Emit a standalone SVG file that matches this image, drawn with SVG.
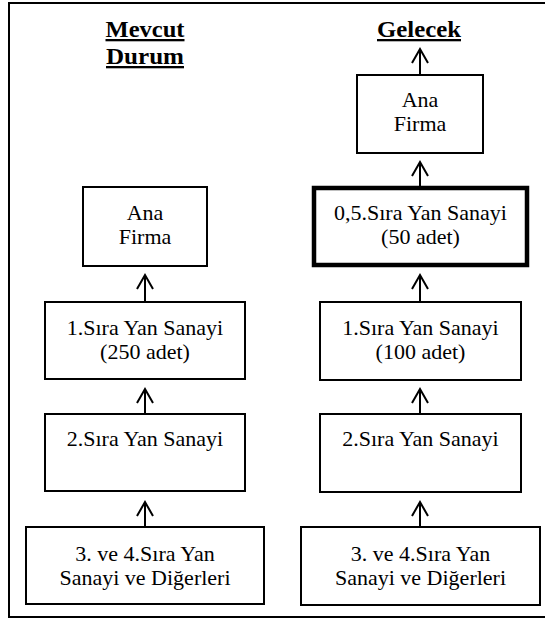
<svg xmlns="http://www.w3.org/2000/svg" width="545" height="619" viewBox="0 0 545 619">
<style>
.box{fill:#fff;stroke:#000;stroke-width:2}
.thick{fill:#fff;stroke:#000;stroke-width:4.5}
.t{font-family:"Liberation Serif","Times New Roman",serif;font-size:22px;fill:#000;text-anchor:middle}
.h{font-family:"Liberation Serif","Times New Roman",serif;font-size:23px;font-weight:bold;fill:#000;text-anchor:middle;text-decoration:underline}
.c{stroke:#000;stroke-width:2;fill:none;marker-end:url(#ah)}
</style>
<defs>
<marker id="ah" markerUnits="userSpaceOnUse" markerWidth="30" markerHeight="30" refX="0" refY="0" orient="auto" overflow="visible">
<path d="M -14 -8 L 0 0 L -14 8" fill="none" stroke="#000" stroke-width="2"/>
</marker>
</defs>
<rect x="0" y="0" width="545" height="619" fill="#fff"/>
<rect x="9" y="3" width="560" height="614" fill="none" stroke="#000" stroke-width="2"/>
<g id="titles">
<text class="h" x="145" y="37" textLength="79" lengthAdjust="spacingAndGlyphs">Mevcut</text>
<text class="h" x="145" y="64" textLength="78" lengthAdjust="spacingAndGlyphs">Durum</text>
<text class="h" x="419" y="37" textLength="84" lengthAdjust="spacingAndGlyphs">Gelecek</text>
</g>
<g id="connectors">
<line class="c" x1="145" y1="302" x2="145" y2="275"/>
<line class="c" x1="145" y1="414" x2="145" y2="389"/>
<line class="c" x1="145" y1="527" x2="145" y2="502"/>
<line class="c" x1="420" y1="75" x2="420" y2="49"/>
<line class="c" x1="420" y1="187" x2="420" y2="162"/>
<line class="c" x1="420" y1="302" x2="420" y2="275"/>
<line class="c" x1="420" y1="414" x2="420" y2="389"/>
<line class="c" x1="420" y1="527" x2="420" y2="502"/>
</g>
<g id="left-ana-firma">
<rect class="box" x="83" y="187" width="124" height="79"/>
<text class="t" x="145" y="220">Ana</text>
<text class="t" x="145" y="244">Firma</text>
</g>
<g id="left-sira1">
<rect class="box" x="45" y="302" width="200" height="77"/>
<text class="t" x="145" y="335">1.Sıra Yan Sanayi</text>
<text class="t" x="145" y="359">(250 adet)</text>
</g>
<g id="left-sira2">
<rect class="box" x="45" y="414" width="200" height="77"/>
<text class="t" x="145" y="446">2.Sıra Yan Sanayi</text>
</g>
<g id="left-sira34">
<rect class="box" x="26" y="527" width="238" height="77"/>
<text class="t" x="145" y="561">3. ve 4.Sıra Yan</text>
<text class="t" x="145" y="585">Sanayi ve Diğerleri</text>
</g>
<g id="right-ana-firma">
<rect class="box" x="357" y="75" width="126" height="78"/>
<text class="t" x="420" y="107">Ana</text>
<text class="t" x="420" y="131">Firma</text>
</g>
<g id="right-sira05">
<rect class="thick" x="314" y="188" width="213" height="77"/>
<text class="t" x="420.5" y="220">0,5.Sıra Yan Sanayi</text>
<text class="t" x="420.5" y="244">(50 adet)</text>
</g>
<g id="right-sira1">
<rect class="box" x="320" y="302" width="201" height="78"/>
<text class="t" x="420.5" y="335">1.Sıra Yan Sanayi</text>
<text class="t" x="420.5" y="359">(100 adet)</text>
</g>
<g id="right-sira2">
<rect class="box" x="320" y="414" width="201" height="78"/>
<text class="t" x="420.5" y="446">2.Sıra Yan Sanayi</text>
</g>
<g id="right-sira34">
<rect class="box" x="301" y="527" width="239" height="78"/>
<text class="t" x="420.5" y="561">3. ve 4.Sıra Yan</text>
<text class="t" x="420.5" y="585">Sanayi ve Diğerleri</text>
</g>
</svg>
